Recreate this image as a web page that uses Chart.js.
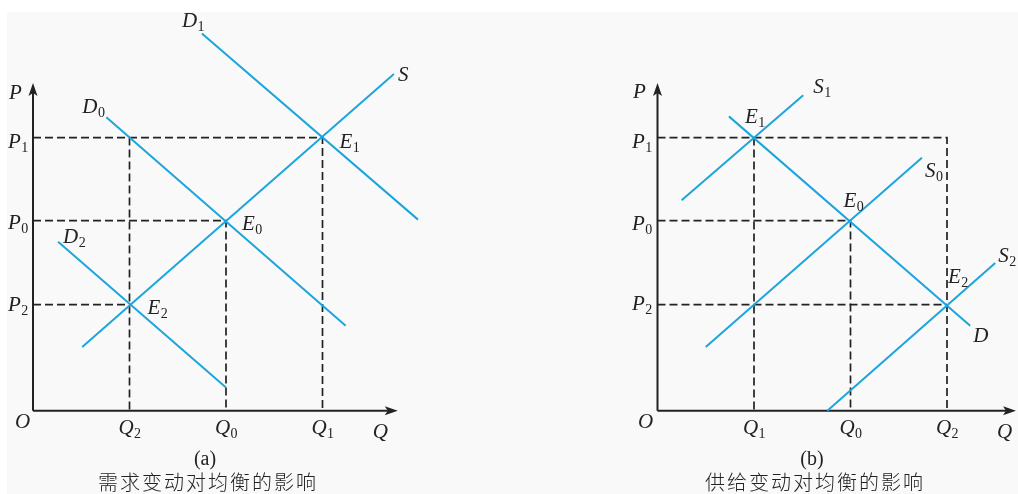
<!DOCTYPE html>
<html>
<head>
<meta charset="utf-8">
<script src="https://cdn.jsdelivr.net/npm/chart.js@4.4.1/dist/chart.umd.min.js"></script>
<style>
  html, body { margin:0; padding:0; background:#fff; }
  #wrap { position:relative; width:1018px; height:494px; overflow:hidden; }
  #bg { position:absolute; left:7px; top:12px; right:0; bottom:0; background:#f9f9f9; }
  canvas { position:absolute; top:0; }
  #chartA { left:0; }
  #chartB { left:509px; }
</style>
</head>
<body>
<div id="wrap">
  <div id="bg"></div>
  <canvas id="chartA" width="509" height="494"></canvas>
  <canvas id="chartB" width="509" height="494"></canvas>
</div>
<script>
/* ── Shared price levels (P1, P0, P2) ── */
const PRICE       = [2.83, 1.97, 1.10];
const PRICE_TICKS = ['P1', 'P0', 'P2'];

/* ── Panel (a): demand shifts ── */
const QTY_A       = [1, 2, 3];              // Q2, Q0, Q1
const QTY_A_TICKS = ['Q2', 'Q0', 'Q1'];
const S_A  = [[0.51, 0.66], [3.74, 3.49]];
const D0_A = [[0.76, 3.04], [3.24, 0.88]];
const D1_A = [[1.75, 3.91], [3.99, 1.98]];
const D2_A = [[0.26, 1.75], [2.00, 0.24]];

/* ── Panel (b): supply shifts ── */
const QTY_B       = [1, 2, 3];              // Q1, Q0, Q2
const QTY_B_TICKS = ['Q1', 'Q0', 'Q2'];
const D_B  = [[0.74, 3.05], [3.24, 0.88]];
const S1_B = [[0.25, 2.18], [1.51, 3.27]];
const S0_B = [[0.50, 0.66], [2.74, 2.62]];
const S2_B = [[1.76, 0.00], [3.50, 1.53]];

const BLUE = '#1ca5dd';
const INK  = '#222';
const UNIT = 96.5;   // px per data unit
const ORIGIN_Y = 410.7;

const pts = arr => arr.map(p => ({ x:p[0], y:p[1] }));
const curve = arr => ({ data:pts(arr), borderColor:BLUE, borderWidth:2, order:0 });
const dash  = arr => ({ data:pts(arr), borderColor:INK, borderWidth:1.7, borderDash:[8,4], order:1 });

/* axes, arrows and labels */
const econPlugin = {
  id:'econ',
  beforeDatasetsDraw(chart, args, o) {
    const { ctx } = chart, xs = chart.scales.x, ys = chart.scales.y;
    const ox = xs.getPixelForValue(0), oy = ys.getPixelForValue(0);
    const tx = xs.getPixelForValue(o.xTip), ty = ys.getPixelForValue(o.yTip);
    ctx.save();
    ctx.strokeStyle = INK; ctx.fillStyle = INK; ctx.lineWidth = 2;
    ctx.beginPath();
    ctx.moveTo(ox, oy); ctx.lineTo(ox, ty + 10);
    ctx.moveTo(ox, oy); ctx.lineTo(tx - 10, oy);
    ctx.stroke();
    ctx.beginPath();
    ctx.moveTo(ox, ty); ctx.lineTo(ox - 4.5, ty + 13); ctx.lineTo(ox, ty + 10); ctx.lineTo(ox + 4.5, ty + 13); ctx.closePath();
    ctx.moveTo(tx, oy); ctx.lineTo(tx - 13, oy - 4.5); ctx.lineTo(tx - 10, oy); ctx.lineTo(tx - 13, oy + 4.5); ctx.closePath();
    ctx.fill();
    ctx.restore();
  },
  afterDatasetsDraw(chart, args, o) {
    const { ctx } = chart, xs = chart.scales.x, ys = chart.scales.y;
    const px = v => xs.getPixelForValue(v), py = v => ys.getPixelForValue(v);
    const MAIN = 'italic 21px "Liberation Serif"', SUB = '14px "Liberation Serif"';
    const measure = (m, s) => {
      ctx.font = MAIN; const w1 = ctx.measureText(m).width;
      ctx.font = SUB;  const w2 = s ? ctx.measureText(s).width : 0;
      return [w1, w2];
    };
    const put = (m, s, x, y) => {
      const [w1] = measure(m, s);
      ctx.font = MAIN; ctx.fillText(m, x, y);
      if (s) { ctx.font = SUB; ctx.fillText(s, x + w1 + 0.5, y + 4); }
    };
    ctx.save();
    ctx.fillStyle = INK; ctx.textBaseline = 'alphabetic'; ctx.textAlign = 'left';
    const ox = px(0), oy = py(0);
    // axis names and origin
    put('P', '', ox + o.pLabel[0], py(o.yTip) + o.pLabel[1]);
    put('Q', '', px(o.xTip) + o.qLabel[0], oy + o.qLabel[1]);
    put('O', '', ox + o.oLabel[0], oy + o.oLabel[1]);
    // price ticks
    PRICE_TICKS.forEach((t, i) => put(t[0], t.slice(1), ox + o.pTickDx, py(PRICE[i]) + o.pTickDy[i]));
    // quantity ticks, centred
    o.qTicks.forEach((t, i) => {
      const [w1, w2] = measure(t[0], t.slice(1));
      put(t[0], t.slice(1), px(o.qVals[i]) - (w1 + w2) / 2, oy + 23);
    });
    // curve and equilibrium labels
    o.labels.forEach(l => put(l.m, l.s, px(l.at[0]) + l.dx, py(l.at[1]) + l.dy));
    // captions
    ctx.textAlign = 'center';
    ctx.font = '20px "Liberation Serif"';
    ctx.fillText(o.tag, o.capX, 465);
    ctx.textAlign = 'left';
    ctx.font = '300 20px "Noto Sans CJK SC"';
    ctx.letterSpacing = '2px';
    const cw = ctx.measureText(o.caption).width - 2;
    ctx.fillText(o.caption, o.capX + 2 - cw / 2, 490);
    ctx.restore();
  }
};

function buildPanel(id, originX, xMax, datasets, opts) {
  const yMax = 4.2;
  return new Chart(document.getElementById(id), {
    type:'scatter',
    data:{ datasets },
    options:{
      responsive:false, animation:false, events:[],
      showLine:true,
      elements:{ point:{ radius:0 }, line:{ tension:0, fill:false } },
      datasets:{ scatter:{ clip:false } },
      layout:{ padding:{
        left:originX,
        right:509 - originX - xMax * UNIT,
        top:ORIGIN_Y - yMax * UNIT,
        bottom:494 - ORIGIN_Y
      } },
      scales:{
        x:{ type:'linear', min:0, max:xMax, display:false },
        y:{ type:'linear', min:0, max:yMax, display:false }
      },
      plugins:{ legend:{ display:false }, tooltip:{ enabled:false }, econ:opts }
    },
    plugins:[econPlugin]
  });
}

window.addEventListener('DOMContentLoaded', () => {
  const [P1, P0, P2] = PRICE;

  /* panel (a) */
  const [aQ2, aQ0, aQ1] = QTY_A;
  buildPanel('chartA', 33, 4.5, [
    curve(D1_A), curve(D0_A), curve(D2_A), curve(S_A),
    dash([[0, P1], [aQ1, P1], [aQ1, 0]]),
    dash([[aQ2, P1], [aQ2, 0]]),
    dash([[0, P0], [aQ0, P0], [aQ0, 0]]),
    dash([[0, P2], [aQ2, P2]])
  ], {
    xTip:3.78, yTip:3.396,
    pLabel:[-24, 16], qLabel:[-25, 27], oLabel:[-18, 17],
    pTickDx:-25, pTickDy:[10, 8, 6],
    qTicks:QTY_A_TICKS, qVals:QTY_A,
    labels:[
      { m:'D', s:'1', at:D1_A[0], dx:-20, dy:-6 },
      { m:'S', s:'',  at:S_A[1],  dx:4,   dy:7 },
      { m:'D', s:'0', at:D0_A[0], dx:-24, dy:-4 },
      { m:'D', s:'2', at:D2_A[0], dx:5,   dy:1 },
      { m:'E', s:'1', at:[aQ1, P1], dx:17, dy:10 },
      { m:'E', s:'0', at:[aQ0, P0], dx:16, dy:9 },
      { m:'E', s:'2', at:[aQ2, P2], dx:18, dy:9 }
    ],
    tag:'(a)', caption:'需求变动对均衡的影响', capX:205
  });

  /* panel (b) */
  const [bQ1, bQ0, bQ2] = QTY_B;
  buildPanel('chartB', 148.5, 3.7, [
    curve(D_B), curve(S1_B), curve(S0_B), curve(S2_B),
    dash([[0, P1], [bQ2, P1], [bQ2, 0]]),
    dash([[bQ1, P1], [bQ1, 0]]),
    dash([[0, P0], [bQ0, P0], [bQ0, 0]]),
    dash([[0, P2], [bQ2, P2]])
  ], {
    xTip:3.715, yTip:3.396,
    pLabel:[-24.5, 15], qLabel:[-19, 27], oLabel:[-19.5, 17],
    pTickDx:-25.5, pTickDy:[10, 9, 5],
    qTicks:QTY_B_TICKS, qVals:QTY_B,
    labels:[
      { m:'S', s:'1', at:S1_B[1], dx:10, dy:-2 },
      { m:'S', s:'0', at:S0_B[1], dx:3,  dy:19 },
      { m:'S', s:'2', at:S2_B[1], dx:3,  dy:-1 },
      { m:'D', s:'',  at:D_B[1],  dx:3,  dy:16 },
      { m:'E', s:'1', at:[bQ1, P1], dx:-9, dy:-15 },
      { m:'E', s:'0', at:[bQ0, P0], dx:-7, dy:-14 },
      { m:'E', s:'2', at:[bQ2, P2], dx:1,  dy:-22 }
    ],
    tag:'(b)', caption:'供给变动对均衡的影响', capX:303
  });
});
</script>
</body>
</html>
